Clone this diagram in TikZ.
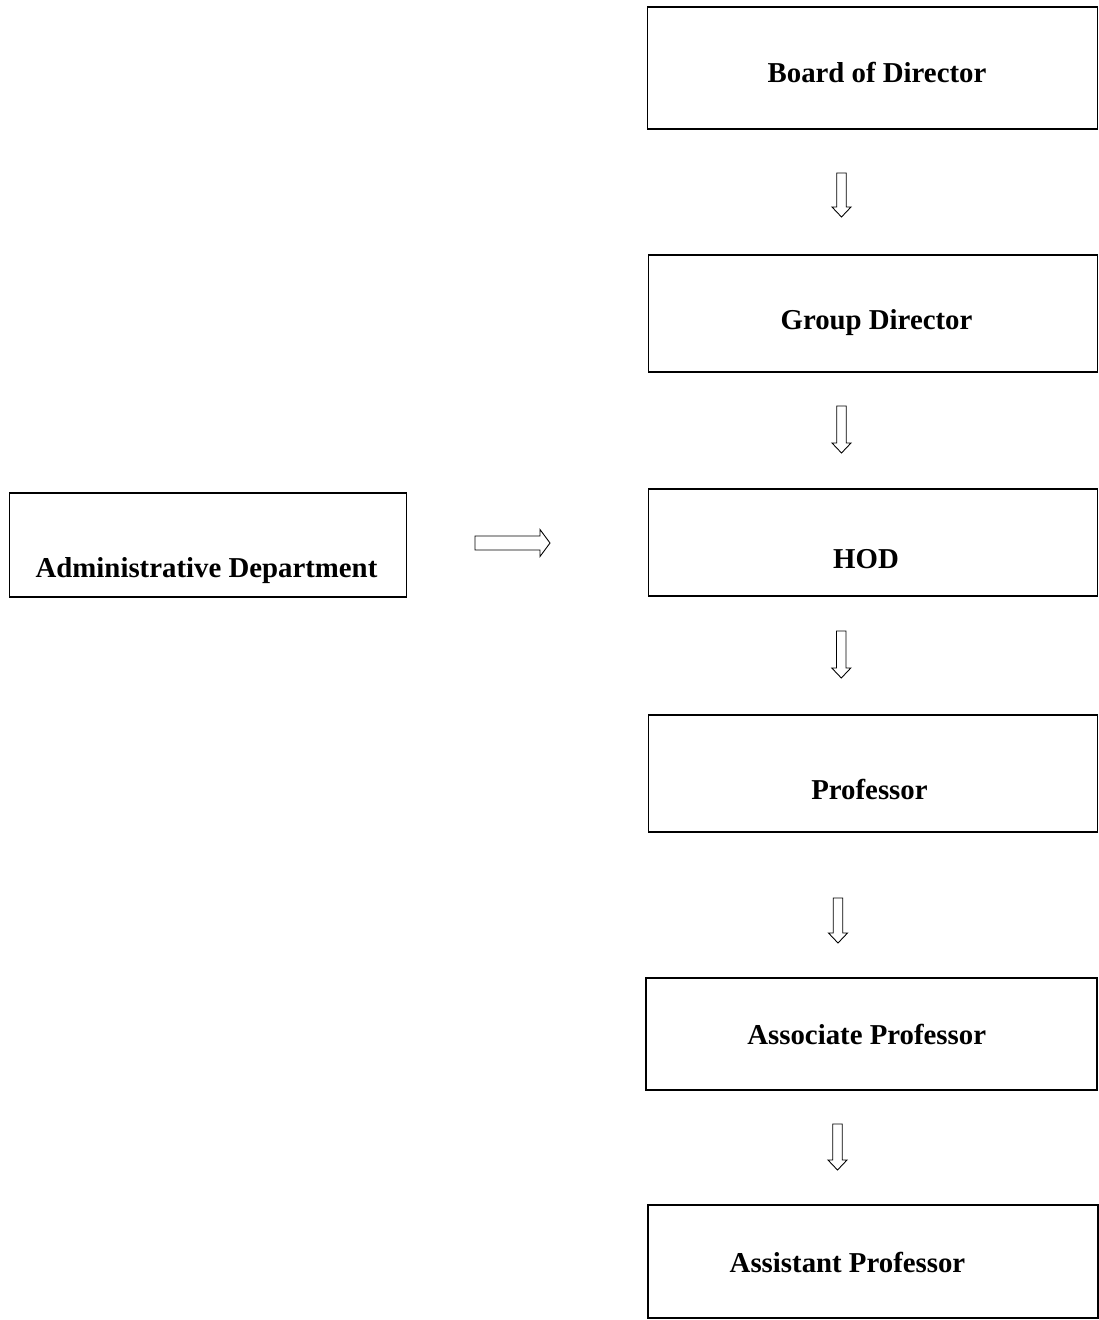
\documentclass[tikz,border=0pt]{standalone}
\usepackage{fontspec}
\setmainfont{Liberation Serif}
\usepackage{tikz}
\usetikzlibrary{calc, positioning}
\tikzstyle{box} = [rectangle, draw, line width=0.6pt, inner sep=0pt]
\tikzstyle{boldbox} = [rectangle, draw, line width=1.2pt, inner sep=0pt]
\tikzstyle{lbl} = [anchor=base, inner sep=0pt, font=\bfseries\fontsize{16.4}{20}\selectfont]
\tikzstyle{blockarr} = [draw, line width=0.5pt, fill=white, line join=miter]

% hollow block arrows between two coordinates
\newcommand{\downblock}[2]{%
  \draw[blockarr] let \p1=(#1), \p2=(#2) in
    (\x1-0.095cm,\y1) -- (\x1+0.095cm,\y1) -- (\x1+0.095cm,\y2+0.2cm)
    -- (\x1+0.19cm,\y2+0.2cm) -- (\x1,\y2) -- (\x1-0.19cm,\y2+0.2cm)
    -- (\x1-0.095cm,\y2+0.2cm) -- cycle;}
\newcommand{\rightblock}[2]{%
  \draw[blockarr] let \p1=(#1), \p2=(#2) in
    (\x1,\y1+0.14cm) -- (\x2-0.2cm,\y1+0.14cm) -- (\x2-0.2cm,\y1+0.27cm)
    -- (\x2,\y1) -- (\x2-0.2cm,\y1-0.27cm) -- (\x2-0.2cm,\y1-0.14cm)
    -- (\x1,\y1-0.14cm) -- cycle;}

\begin{document}
\begin{tikzpicture}[x=0.02cm, y=-0.02cm]
    \useasboundingbox (0,0) rectangle (1099,1320);

    % hierarchy boxes
    \node (board) [box, minimum width=9.02cm, minimum height=2.44cm] at (872.5,68) {};
    \node (group) [box, minimum width=9.0cm, minimum height=2.34cm] at (873,313.5) {};
    \node (hod) [box, minimum width=9.0cm, minimum height=2.14cm] at (873,542.5) {};
    \node (prof) [box, minimum width=9.0cm, minimum height=2.34cm] at (873,773.5) {};
    \node (assoc) [boldbox, minimum width=9.02cm, minimum height=2.24cm] at (871.5,1034) {};
    \node (assist) [boldbox, minimum width=9.0cm, minimum height=2.26cm] at (873,1261.5) {};
    \node (admin) [box, minimum width=7.96cm, minimum height=2.08cm] at (208,545) {};

    % texts
    \node (boardtxt) [lbl] at (877,82) {Board of Director};
    \node (grouptxt) [lbl] at (876.5,329) {Group Director};
    \node (hodtxt) [lbl] at (866,568) {HOD};
    \node (proftxt) [lbl] at (869.5,799) {Professor};
    \node (assoctxt) [lbl] at (866.7,1044) {Associate Professor};
    \node (assisttxt) [lbl] at (847.5,1272) {Assistant Professor};
    \node (admintxt) [lbl] at (206.5,577) {Administrative Department};

    % arrow ends
    \coordinate (a1s) at (841.5,173);  \coordinate (a1e) at (841.5,217);
    \coordinate (a2s) at (841.5,406);  \coordinate (a2e) at (841.5,453);
    \coordinate (a3s) at (841.3,631);  \coordinate (a3e) at (841.3,678);
    \coordinate (a4s) at (838,898);    \coordinate (a4e) at (838,943);
    \coordinate (a5s) at (837.5,1124); \coordinate (a5e) at (837.5,1170);
    \coordinate (h1s) at (475,543);    \coordinate (h1e) at (550,543);

    % hollow arrows
    \downblock{a1s}{a1e}
    \downblock{a2s}{a2e}
    \downblock{a3s}{a3e}
    \downblock{a4s}{a4e}
    \downblock{a5s}{a5e}
    \rightblock{h1s}{h1e}

\end{tikzpicture}
\end{document}
